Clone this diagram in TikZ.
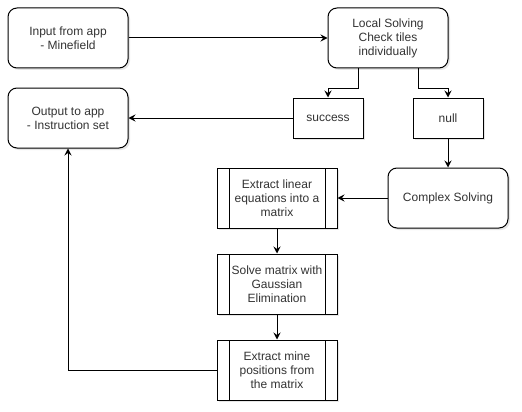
\documentclass[tikz,border=0pt]{standalone}
\usepackage{fontspec}
\setmainfont{Liberation Sans}
\usetikzlibrary{arrows.meta,shadows}
\begin{document}
\begin{tikzpicture}[x=1pt,y=-1pt,
  base/.style={draw=black, line width=1pt, fill=white, align=center,
    font=\fontsize{12}{14}\selectfont, text=black!80,
    drop shadow={opacity=0.2, shadow xshift=2pt, shadow yshift=-2pt}},
  roundbox/.style={base, rectangle, rounded corners=9pt, minimum width=120pt, minimum height=60pt},
  plainbox/.style={base, rectangle, minimum width=70pt, minimum height=40pt},
  procbox/.style={base, rectangle, minimum width=120pt, minimum height=60pt,
    path picture={
      \draw[line width=1pt] ([xshift=12pt]path picture bounding box.north west) -- ([xshift=12pt]path picture bounding box.south west);
      \draw[line width=1pt] ([xshift=-12pt]path picture bounding box.north east) -- ([xshift=-12pt]path picture bounding box.south east);}},
  arr/.style={draw=black, line width=1pt, -{Stealth[length=7pt,width=7pt,inset=2.5pt]}}
]
\useasboundingbox (0,0) rectangle (522,412);
\node[roundbox] (in) at (68,38) {Input from app\\- Minefield};
\node[roundbox] (loc) at (388,38) {Local Solving\\Check tiles\\individually};
\node[roundbox] (out) at (68,118) {Output to app\\- Instruction set};
\node[plainbox] (succ) at (328,118) {success};
\node[plainbox] (null) at (448,118) {null};
\node[roundbox] (cx) at (448,198) {Complex Solving};
\node[procbox] (ex1) at (277,198) {Extract linear\\equations into a\\matrix};
\node[procbox] (ex2) at (277,284) {Solve matrix with\\Gaussian\\Elimination};
\node[procbox] (ex3) at (277,370) {Extract mine\\positions from\\the matrix};

\draw[arr] (in) -- (loc);
\draw[arr] ([xshift=-30pt]loc.south) -- ++(0,20) -| (succ.north);
\draw[arr] ([xshift=30pt]loc.south) -- ++(0,20) -| (null.north);
\draw[arr] (succ) -- (out);
\draw[arr] (null) -- (cx);
\draw[arr] (cx) -- (ex1);
\draw[arr] (ex1) -- (ex2);
\draw[arr] (ex2) -- (ex3);
\draw[arr] (ex3.west) -| (out.south);
\end{tikzpicture}
\end{document}
